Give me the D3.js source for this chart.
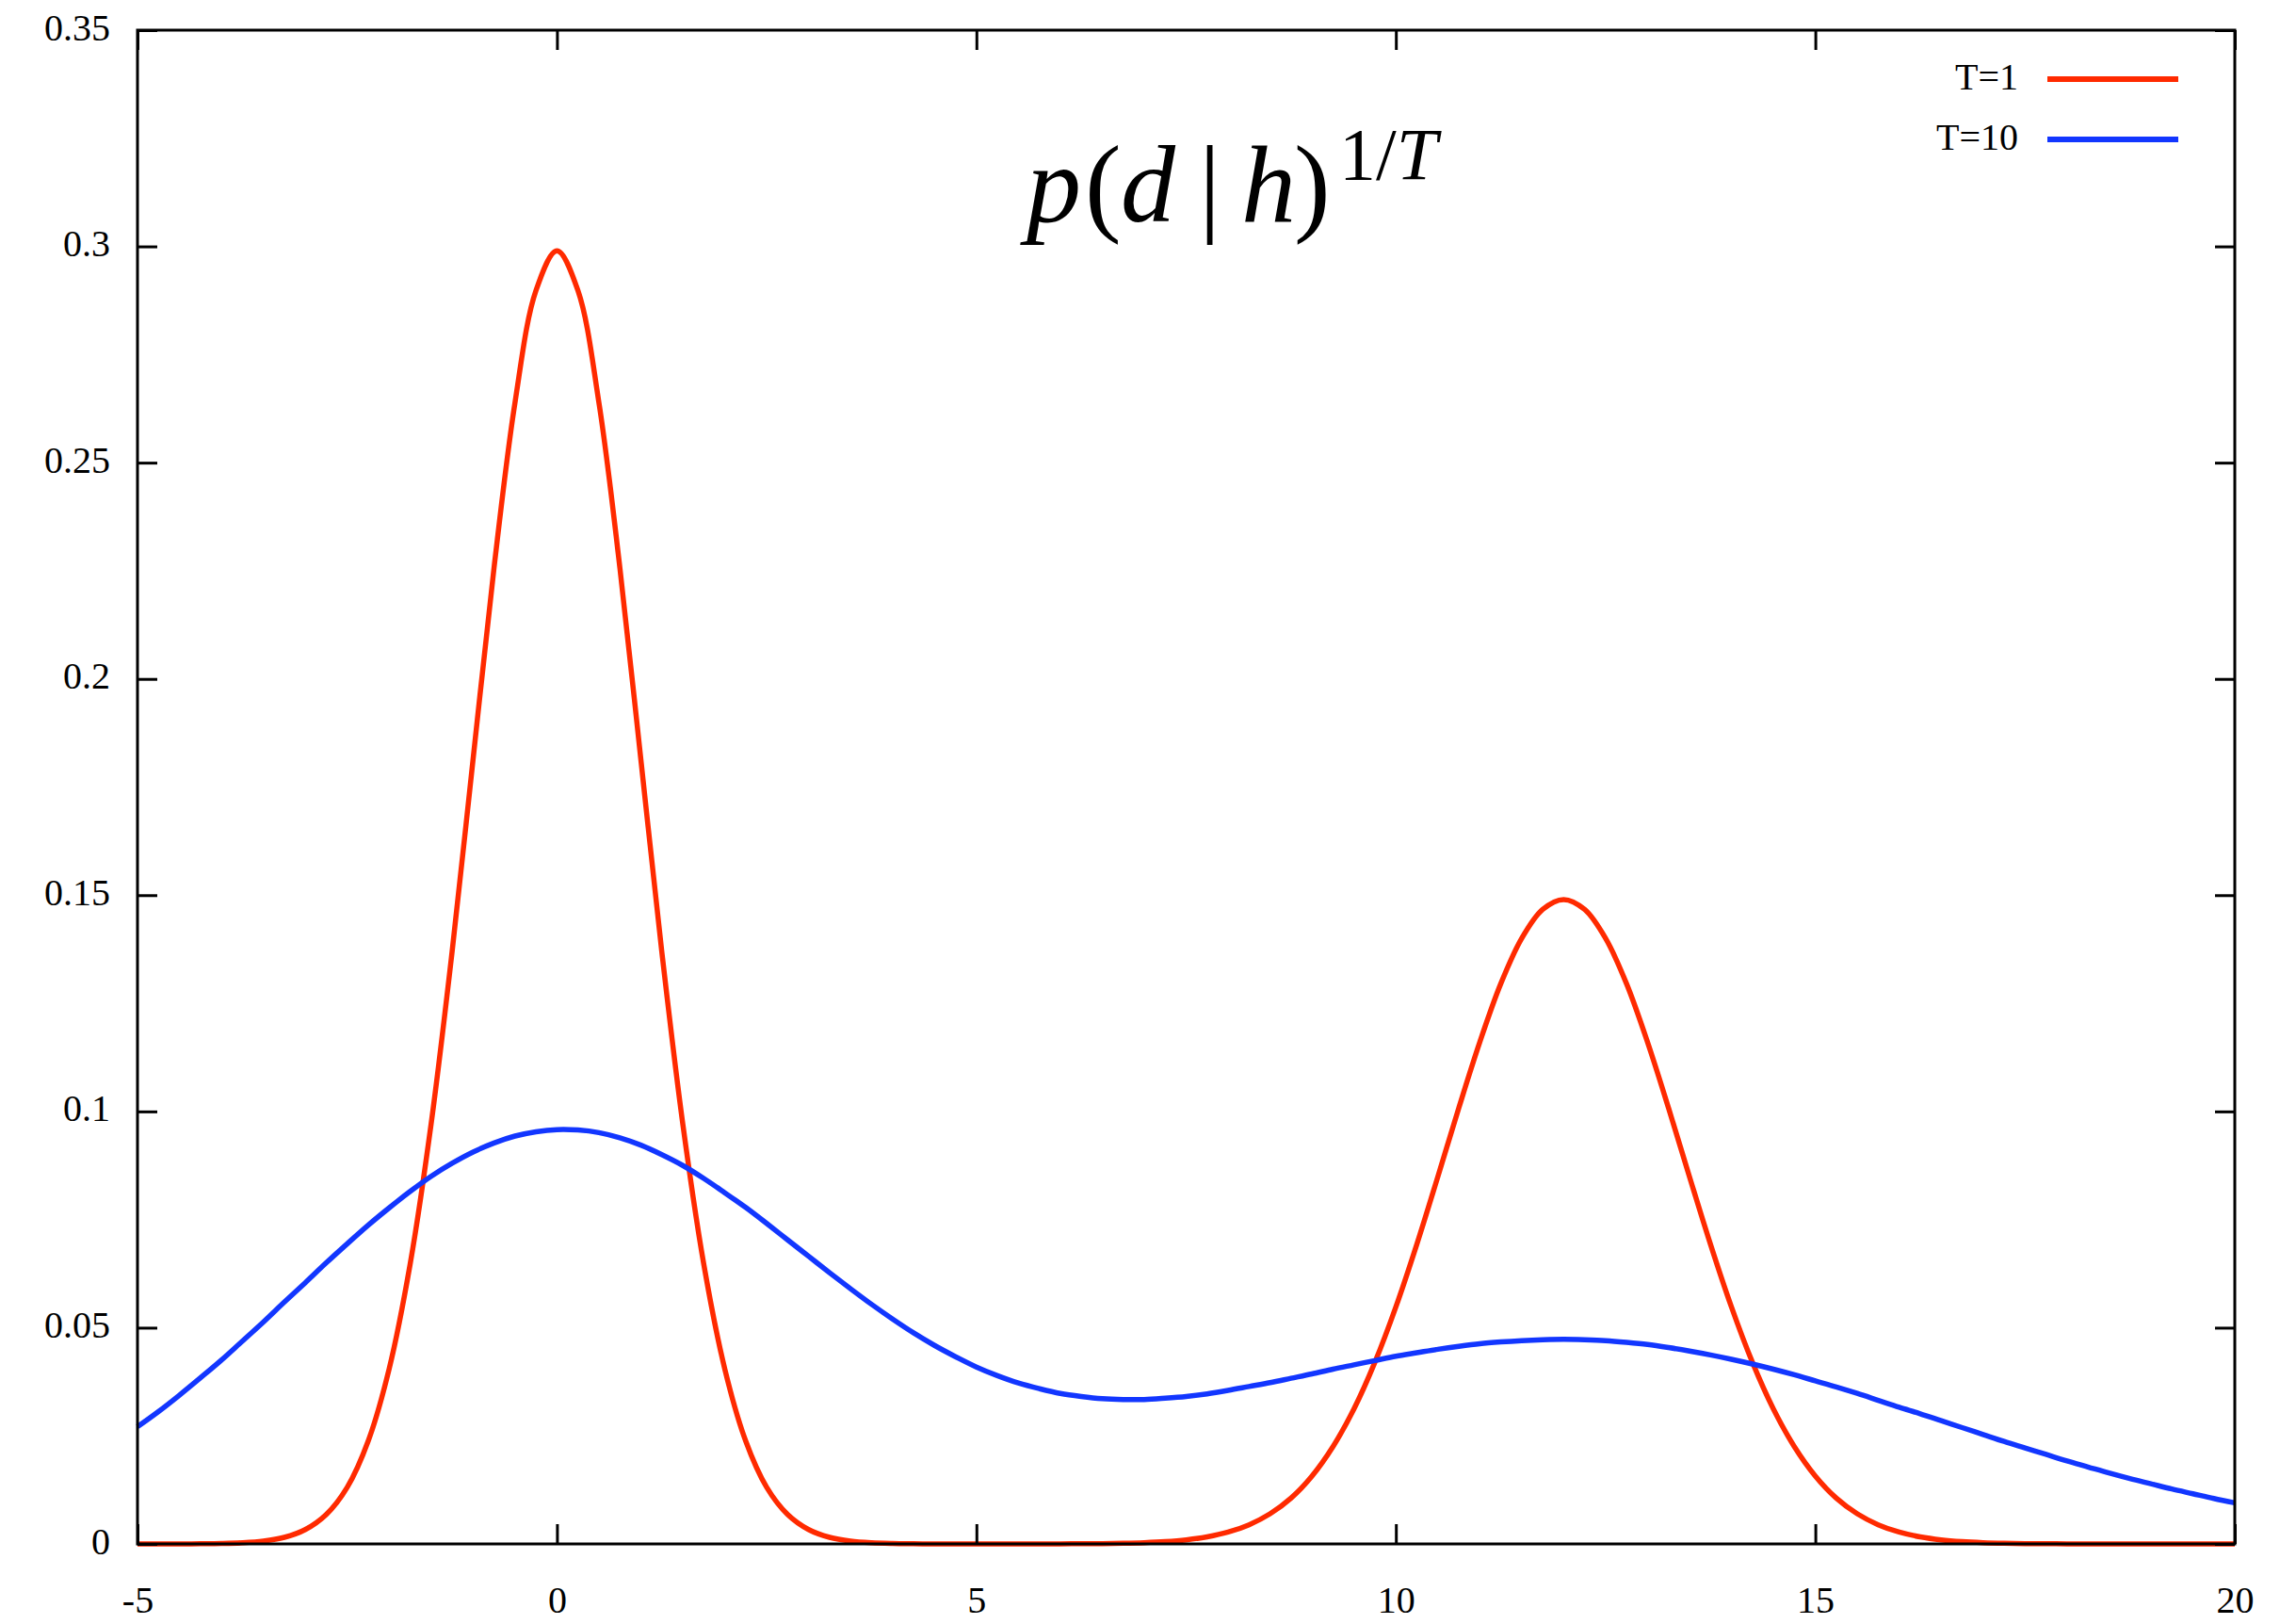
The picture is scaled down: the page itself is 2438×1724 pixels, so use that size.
<!DOCTYPE html>
<html>
<head>
<meta charset="utf-8">
<script src="https://cdn.jsdelivr.net/npm/d3@7/dist/d3.min.js"></script>
<style>
  body { margin: 0; background: #fff; }
  text { font-family: "Liberation Serif", "Times New Roman", serif; fill: #000; }
</style>
</head>
<body>
<svg id="svg_main" width="2438" height="1724"></svg>
<script>
// sample grid for both curves: x from -5 to 20, step 0.25
var x_start = -5, x_step = 0.25

// T=1 curve
var red_vals = [0, 0, 0.00001, 0.00004, 0.0001, 0.00026, 0.00065, 0.00152, 0.00332, 0.00681,
  0.0131, 0.0238, 0.0405, 0.0647, 0.0971, 0.1369, 0.1814, 0.2257, 0.2639, 0.2898,
  0.299, 0.2898, 0.2639, 0.2257, 0.1814, 0.1369, 0.0971, 0.0647, 0.0405, 0.0238,
  0.0131, 0.00681, 0.00332, 0.00152, 0.00065, 0.00026, 0.0001, 0.00004, 0.00001, 0,
  0, 0, 0, 0.00001, 0.00002, 0.00004, 0.00008, 0.00015, 0.00029, 0.00053,
  0.00094, 0.00163, 0.00273, 0.00443, 0.00697, 0.0106, 0.0157, 0.0225, 0.0312, 0.042,
  0.0548, 0.0693, 0.0849, 0.1008, 0.116, 0.1295, 0.14, 0.1467, 0.149, 0.1467,
  0.14, 0.1295, 0.116, 0.1008, 0.0849, 0.0693, 0.0548, 0.042, 0.0312, 0.0225,
  0.0157, 0.0106, 0.00697, 0.00443, 0.00273, 0.00163, 0.00094, 0.00053, 0.00029, 0.00015,
  0.00008, 0.00004, 0.00002, 0.00001, 0, 0, 0, 0, 0, 0, 0]

// T=10 curve
var blue_vals = [0.0271, 0.0306, 0.0344, 0.0384, 0.0425, 0.0469, 0.0513, 0.0559, 0.0604, 0.065,
  0.0694, 0.0737, 0.0777, 0.0815, 0.085, 0.088, 0.0906, 0.0927, 0.0943, 0.0953,
  0.0958, 0.0957, 0.0951, 0.0939, 0.0922, 0.09, 0.0875, 0.0845, 0.0812, 0.0778,
  0.0741, 0.0703, 0.0665, 0.0627, 0.059, 0.0554, 0.052, 0.0488, 0.0459, 0.0433,
  0.0409, 0.0389, 0.0372, 0.0359, 0.0348, 0.0341, 0.0336, 0.0334, 0.0334, 0.0337,
  0.0341, 0.0347, 0.0355, 0.0364, 0.0373, 0.0383, 0.0393, 0.0404, 0.0414, 0.0424,
  0.0434, 0.0442, 0.045, 0.0457, 0.0463, 0.0467, 0.047, 0.0472, 0.0473, 0.0472,
  0.047, 0.0466, 0.0461, 0.0454, 0.0446, 0.0437, 0.0427, 0.0416, 0.0404, 0.0391,
  0.0377, 0.0363, 0.0348, 0.0332, 0.0316, 0.0301, 0.0285, 0.0269, 0.0253, 0.0237,
  0.0222, 0.0207, 0.0192, 0.0178, 0.0164, 0.0151, 0.0139, 0.0127, 0.0116, 0.0105,
  0.0095]

var series_names = ['T=1', 'T=10']
var series_colors = ['#ff2a00', '#1236ff']
var x_ticks = [-5, 0, 5, 10, 15, 20]
var y_ticks = [0, 0.05, 0.1, 0.15, 0.2, 0.25, 0.3, 0.35]

const margin = { top: 32, right: 65, bottom: 85, left: 146 };
var width = 2438 - margin.left - margin.right,
    height = 1724 - margin.top - margin.bottom;

var svg = d3.select("#svg_main")
var g = svg.append("g").attr("transform", "translate(" + margin.left + "," + margin.top + ")")

var x = d3.scaleLinear().domain([-5, 20]).range([0, width])
var y = d3.scaleLinear().domain([0, 0.35]).range([height, 0])

function toPoints(vals){
    return vals.map(function(v, i){ return { x: x_start + i * x_step, y: v } })
}

var line = d3.line()
    .x(function(d){ return x(d.x) })
    .y(function(d){ return y(d.y) })
    .curve(d3.curveCatmullRom.alpha(0.5))

// curves (T=1 first, T=10 on top)
var all_series = [toPoints(red_vals), toPoints(blue_vals)]
g.selectAll(".curve")
    .data(all_series)
    .enter()
    .append("path")
      .attr("class", "curve")
      .attr("d", line)
      .attr("fill", "none")
      .attr("stroke", function(d, i){ return series_colors[i] })
      .attr("stroke-width", 5.5)
      .attr("stroke-linejoin", "round")

// axes with inward ticks, mirrored
var tickLen = 21
g.append("g").attr("class", "xaxis")
    .attr("transform", "translate(0," + height + ")")
    .call(d3.axisBottom(x).tickValues(x_ticks).tickSizeInner(-tickLen).tickSizeOuter(0)
        .tickFormat(function(d){ return String(d) }))
g.append("g").attr("class", "xaxis2")
    .call(d3.axisTop(x).tickValues(x_ticks).tickSizeInner(-tickLen).tickSizeOuter(0).tickFormat(""))
g.append("g").attr("class", "yaxis")
    .call(d3.axisLeft(y).tickValues(y_ticks).tickSizeInner(-tickLen).tickSizeOuter(0)
        .tickFormat(function(d){ return d === 0 ? "0" : String(+d.toFixed(2)) }))
g.append("g").attr("class", "yaxis2")
    .attr("transform", "translate(" + width + ",0)")
    .call(d3.axisRight(y).tickValues(y_ticks).tickSizeInner(-tickLen).tickSizeOuter(0).tickFormat(""))

g.selectAll(".domain").remove()
g.selectAll(".tick line").attr("stroke", "#000").attr("stroke-width", 3)
g.selectAll(".tick text").attr("font-size", 40).attr("font-family", "Liberation Serif").attr("fill", "#000")
g.selectAll(".yaxis .tick text").attr("dy", "10").attr("x", -29)
g.selectAll(".xaxis .tick text").attr("dy", 0).attr("y", 73)

g.append("rect")
    .attr("width", width).attr("height", height)
    .attr("fill", "none").attr("stroke", "#000").attr("stroke-width", 3)

// legend
var legend = svg.append("g").attr("class", "legend")
series_names.forEach(function(name, i){
    var ly = 84 + i * 64
    legend.append("text")
        .attr("x", 2143).attr("y", ly + 11)
        .attr("text-anchor", "end").attr("font-size", 40)
        .text(name)
    legend.append("line")
        .attr("x1", 2174).attr("x2", 2313)
        .attr("y1", ly).attr("y2", ly)
        .attr("stroke", series_colors[i]).attr("stroke-width", 6)
})

// title p(d|h)^{1/T}
var title = svg.append("text").attr("y", 235).attr("font-size", 116)
var parts = [
    { t: "p", x: 1090, it: true },
    { t: "(", x: 1152, it: false },
    { t: "d", x: 1190, it: true },
    { t: "|", x: 1273, it: false },
    { t: "h", x: 1318, it: true },
    { t: ")", x: 1374, it: false }
]
parts.forEach(function(p){
    title.append("tspan").attr("x", p.x).attr("font-style", p.it ? "italic" : "normal").text(p.t)
})
var sup = svg.append("text").attr("x", 1422).attr("y", 190).attr("font-size", 78)
sup.append("tspan").text("1/")
sup.append("tspan").attr("font-style", "italic").text("T")
</script>
</body>
</html>
